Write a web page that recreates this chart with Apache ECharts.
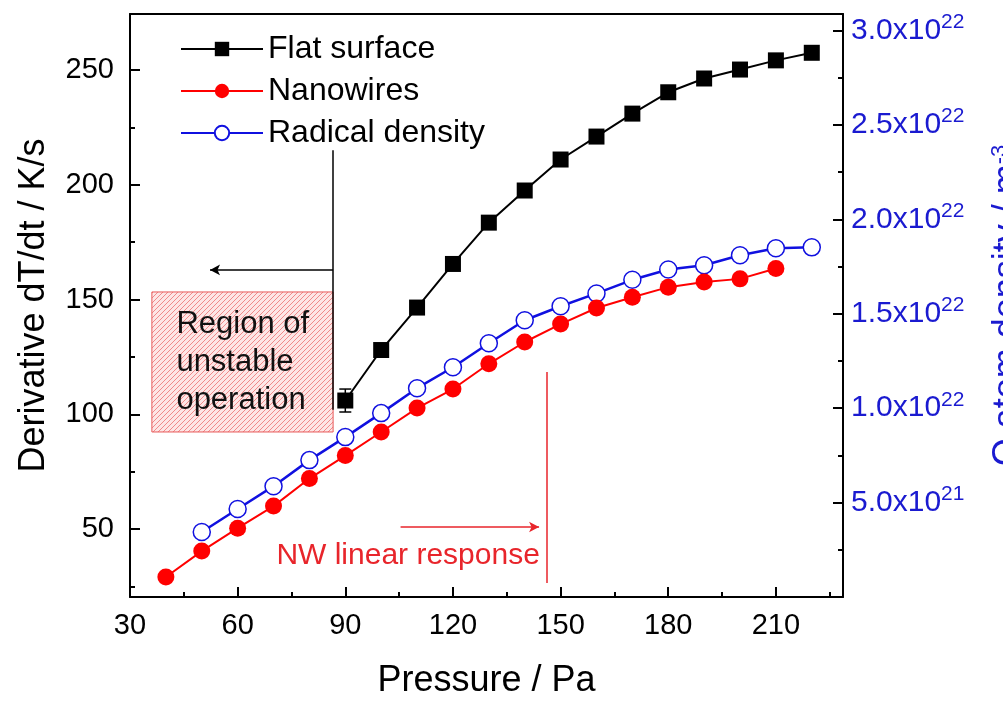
<!DOCTYPE html>
<html><head><meta charset="utf-8">
<script src="https://cdn.jsdelivr.net/npm/echarts@6/dist/echarts.min.js"></script>
<style>html,body{margin:0;padding:0;background:#fff}#c{width:1003px;height:702px}</style>
</head><body><div id="c"></div>
<script>
// ---- data ----
const flatPressure = [90,100,110,120,130,140,150,160,170,180,190,200,210,220];
const flatValues   = [106,128,146.5,165.5,183.5,197.5,211,221,231,240.3,246.3,250.2,254.2,257.5];
const flatErrors   = [5,0,0,0,0,0,0,0,0,0,0,0,0,0];
const nwPressure   = [40,50,60,70,80,90,100,110,120,130,140,150,160,170,180,190,200,210];
const nwValues     = [29.1,40.4,50.4,60,72,82,92.3,102.7,111,122,131.5,139.3,146.3,151,155.4,157.6,159,163.5];
const radPressure  = [50,60,70,80,90,100,110,120,130,140,150,160,170,180,190,200,210,220];
const radValues    = [0.344e22,0.466e22,0.587e22,0.725e22,0.847e22,0.974e22,1.106e22,1.217e22,1.344e22,1.466e22,1.54e22,1.608e22,1.68e22,1.735e22,1.757e22,1.81e22,1.847e22,1.852e22];
const xMajorTicks  = [30,60,90,120,150,180,210];
const xMinorTicks  = [45,75,105,135,165,195,225];
const yMajorTicks  = [50,100,150,200,250];
const yMinorTicks  = [25,75,125,175,225];
const y2MajorTicks = [0,5e21,1e22,1.5e22,2e22,2.5e22,3e22];
const y2MinorTicks = [2.5e21,7.5e21,1.25e22,1.75e22,2.25e22,2.75e22];
const seriesNames  = ['Flat surface','Nanowires','Radical density'];
const regionBox    = {x:[36.1,86.6], y:[92.3,153.3], text:'Region of\nunstable\noperation'};
const blackLine    = {x:86.6, y:[102,215]};
const blackArrow   = {x:[86.6,52.3], y:162.9};
const redLine      = {x:146.1, y:[26.5,118.4]};
const redArrow     = {x:[105.4,144], y:50.9};
const nwText       = {x:107.5, y:38.2, text:'NW linear response'};

// ---- helpers ----
const FONT = '"Liberation Sans", Arial, sans-serif';
function hatch(){
  const c = document.createElement('canvas'); c.width = 5; c.height = 5;
  const g = c.getContext('2d');
  g.fillStyle = '#fde6e6'; g.fillRect(0,0,5,5);
  g.strokeStyle = '#f08a8a'; g.lineWidth = 1;
  g.beginPath(); g.moveTo(-1,6); g.lineTo(6,-1); g.moveTo(-1,1); g.lineTo(1,-1); g.moveTo(4,6); g.lineTo(6,4); g.stroke();
  return c;
}
function sci(v){
  if (v === 0) return '';
  const e = Math.floor(Math.log10(v) + 1e-9);
  const m = (v / Math.pow(10, e)).toFixed(1);
  return '{a|' + m + 'x10}{s|' + e + '}';
}
const xRange = {min:30, max:228.7};
const yRange = {min:20.4, max:274.4};
const y2Range = {min:0, max:3.088e22};
const BLUE = '#1a1ad0';

const chart = echarts.init(document.getElementById('c'), null, {renderer:'canvas'});
chart.setOption({
  animation:false,
  backgroundColor:'#fff',
  grid:{left:130, right:160, top:14, bottom:105, containLabel:false, outerBoundsMode:'none'},
  legend:{
    data:seriesNames, orient:'vertical', left:180, top:33, padding:0,
    itemWidth:82, itemHeight:18, itemGap:10, selectedMode:false,
    textStyle:{fontFamily:FONT, fontSize:32, color:'#000', lineHeight:32}
  },
  xAxis:[
    {type:'value', position:'bottom', ...xRange,
      name:'Pressure / Pa', nameLocation:'middle', nameGap:66,
      nameTextStyle:{fontFamily:FONT, fontSize:36, color:'#000'},
      axisLine:{show:true, lineStyle:{color:'#000', width:2}},
      axisTick:{show:true, inside:true, length:10, lineStyle:{color:'#000', width:2}, customValues:xMajorTicks},
      axisLabel:{show:true, margin:14, fontFamily:FONT, fontSize:29, color:'#000', customValues:xMajorTicks},
      splitLine:{show:false}},
    {type:'value', position:'bottom', ...xRange,
      axisLine:{show:false}, axisLabel:{show:false},
      axisTick:{show:true, inside:true, length:5, lineStyle:{color:'#000', width:2}, customValues:xMinorTicks},
      splitLine:{show:false}},
    {type:'value', position:'top', ...xRange,
      axisLine:{show:true, lineStyle:{color:'#000', width:2}}, axisLabel:{show:false}, axisTick:{show:false}, splitLine:{show:false}}
  ],
  yAxis:[
    {type:'value', position:'left', ...yRange,
      name:'Derivative dT/dt / K/s', nameLocation:'middle', nameGap:78, nameRotate:90,
      nameTextStyle:{fontFamily:FONT, fontSize:36, color:'#000'},
      axisLine:{show:true, lineStyle:{color:'#000', width:2}},
      axisTick:{show:true, inside:true, length:10, lineStyle:{color:'#000', width:2}, customValues:yMajorTicks},
      axisLabel:{show:true, margin:16, fontFamily:FONT, fontSize:29, color:'#000', customValues:yMajorTicks},
      splitLine:{show:false}},
    {type:'value', position:'right', ...y2Range,
      name:'O atom density / m{s|-3}', nameLocation:'middle', nameGap:146, nameRotate:90,
      nameTextStyle:{fontFamily:FONT, fontSize:36, color:BLUE, rich:{s:{fontFamily:FONT, fontSize:22, color:BLUE, verticalAlign:'top', padding:[0,0,16,0]}}},
      axisLine:{show:true, lineStyle:{color:'#000', width:2}},
      axisTick:{show:true, inside:true, length:10, lineStyle:{color:'#000', width:2}, customValues:y2MajorTicks},
      axisLabel:{show:true, margin:8, formatter:sci, customValues:y2MajorTicks,
        rich:{a:{fontFamily:FONT, fontSize:30, color:BLUE}, s:{fontFamily:FONT, fontSize:21, color:BLUE, padding:[0,0,17,0]}}},
      splitLine:{show:false}},
    {type:'value', position:'left', ...yRange,
      axisLine:{show:false}, axisLabel:{show:false},
      axisTick:{show:true, inside:true, length:5, lineStyle:{color:'#000', width:2}, customValues:yMinorTicks},
      splitLine:{show:false}},
    {type:'value', position:'right', ...y2Range,
      axisLine:{show:false}, axisLabel:{show:false},
      axisTick:{show:true, inside:true, length:5, lineStyle:{color:'#000', width:2}, customValues:y2MinorTicks},
      splitLine:{show:false}}
  ],
  series:[
    {name:'annotations', type:'line', xAxisIndex:0, yAxisIndex:0, data:[], silent:true, z:1,
      markArea:{silent:true,
        itemStyle:{color:{image:hatch(), repeat:'repeat'}, borderColor:'#e85a5a', borderWidth:1},
        label:{show:true, position:'insideLeft', distance:25, formatter:regionBox.text,
          fontFamily:FONT, fontSize:31, lineHeight:38, color:'#111', align:'left'},
        data:[[{coord:[regionBox.x[0], regionBox.y[1]]},{coord:[regionBox.x[1], regionBox.y[0]]}]]},
      markLine:{silent:true, symbol:['none','none'], label:{show:false}, animation:false,
        data:[
          [{coord:[blackLine.x, blackLine.y[0]], lineStyle:{color:'#000', width:1.5, type:'solid'}},{coord:[blackLine.x, blackLine.y[1]]}],
          [{coord:[blackArrow.x[0], blackArrow.y], symbol:'none', lineStyle:{color:'#000', width:1.5, type:'solid'}},{coord:[blackArrow.x[1], blackArrow.y], symbol:'arrow', symbolSize:[8,10]}],
          [{coord:[redLine.x, redLine.y[0]], lineStyle:{color:'#e8252b', width:1.5, type:'solid'}},{coord:[redLine.x, redLine.y[1]]}],
          [{coord:[redArrow.x[0], redArrow.y], symbol:'none', lineStyle:{color:'#e8252b', width:1.5, type:'solid'}},{coord:[redArrow.x[1], redArrow.y], symbol:'arrow', symbolSize:[8,10]}]
        ]},
      markPoint:{silent:true, symbol:'circle', symbolSize:0,
        data:[{coord:[nwText.x, nwText.y], label:{show:true, position:'inside', formatter:nwText.text,
          fontFamily:FONT, fontSize:30, color:'#e8252b'}}]}
    },
    {name:'Flat surface', type:'line', xAxisIndex:0, yAxisIndex:0, z:5,
      data:flatPressure.map((p,i)=>[p, flatValues[i]]),
      symbol:'rect', symbolSize:16, lineStyle:{color:'#000', width:2}, itemStyle:{color:'#000'}},
    {name:'Nanowires', type:'line', xAxisIndex:0, yAxisIndex:0, z:4,
      data:nwPressure.map((p,i)=>[p, nwValues[i]]),
      symbol:'circle', symbolSize:17, lineStyle:{color:'#ff0000', width:2}, itemStyle:{color:'#ff0000'}},
    {name:'Radical density', type:'line', xAxisIndex:0, yAxisIndex:1, z:3,
      data:radPressure.map((p,i)=>[p, radValues[i]]),
      symbol:'circle', symbolSize:17, lineStyle:{color:'#1010e0', width:2.5},
      itemStyle:{color:'#ffffff', borderColor:'#1010e0', borderWidth:1.5}},
    {name:'errors', type:'custom', xAxisIndex:0, yAxisIndex:0, z:6, silent:true,
      data:flatPressure.map((p,i)=>[p, flatValues[i], flatErrors[i]]).filter(d=>d[2]>0),
      renderItem:function(params, api){
        const x = api.value(0), y = api.value(1), e = api.value(2);
        const top = api.coord([x, y+e]), bot = api.coord([x, y-e]);
        const st = {stroke:'#000', lineWidth:1.5};
        return {type:'group', children:[
          {type:'line', shape:{x1:top[0], y1:top[1], x2:bot[0], y2:bot[1]}, style:st},
          {type:'line', shape:{x1:top[0]-6, y1:top[1], x2:top[0]+6, y2:top[1]}, style:st},
          {type:'line', shape:{x1:bot[0]-6, y1:bot[1], x2:bot[0]+6, y2:bot[1]}, style:st}
        ]};
      }}
  ]
});
</script></body></html>
